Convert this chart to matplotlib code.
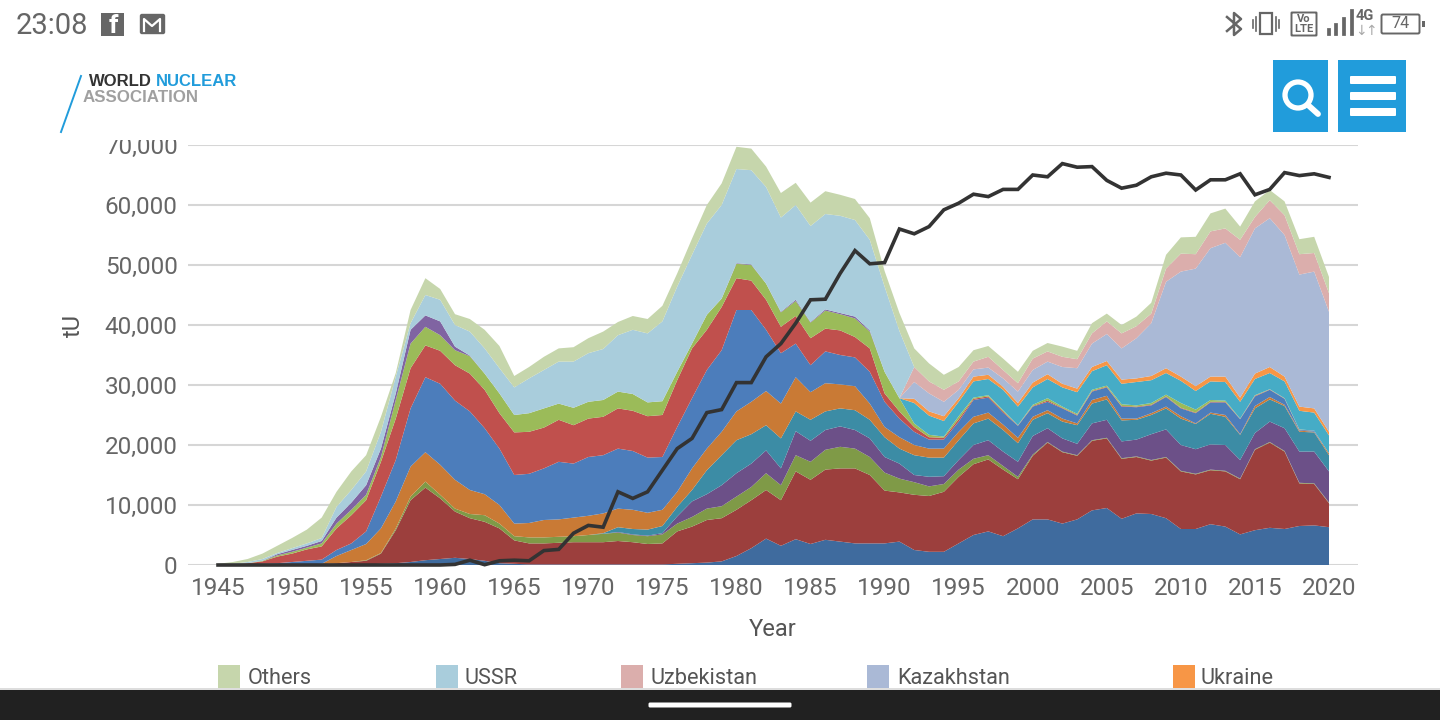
import numpy as np
import matplotlib
matplotlib.use("Agg")
import matplotlib.pyplot as plt
from matplotlib.patches import Rectangle, FancyBboxPatch, Circle

plt.rcParams['font.family'] = ['Roboto', 'DejaVu Sans']

years = list(range(1945, 2021))

# Cumulative upper edge of each stacked band, thousand tU (1945-65, 1966-91, 1992-2020)
top_australia = [0,0,0,0,0, 0,0,0,0.05,0.1, 0.1,0.2,0.3,0.5,0.8, 1.0,1.2,1.0,0.7,0.3, 0.2,
    0.1,0.1,0.1,0.1,0.1, 0.1,0.1,0.1,0.1,0.1, 0.2,0.3,0.4,0.6,1.5, 2.8,4.4,3.2,4.3,3.5, 4.2,3.9,3.6,3.6,3.6, 3.9,
    2.5,2.2,2.2,3.6,5,5.6,4.8,6.1,7.6,7.6,6.9,7.6,9.1,9.5,7.7,8.6,8.5,7.8,6,6,6.8,6.4,5.1,5.8,6.2,6,6.5,6.6,6.3]
top_canada = [0,0.1,0.1,0.1,0.1, 0.1,0.1,0.1,0.3,0.5, 0.7,1.9,5.8,10.8,12.9, 11.1,8.9,7.8,7.2,6.1, 4.1,
    3.6,3.6,3.7,3.8,3.8, 3.8,4.0,3.8,3.5,3.6, 5.6,6.4,7.5,7.8,9.2, 10.8,12.5,10.8,15.6,14.2, 15.9,16.1,16.1,15,12.4, 12.1,
    11.7,11.5,12.2,14.7,16.8,17.6,15.9,14.3,18.2,20.4,18.8,18.2,20.7,21.1,17.7,18,17.4,17.9,15.6,15.1,15.8,15.6,14.3,19.2,20.4,18.9,13.6,13.5,10.3]
top_olive = [0,0.1,0.1,0.1,0.1, 0.1,0.1,0.1,0.3,0.5, 0.8,2.0,6.1,11.4,13.9, 11.7,9.4,8.5,8.3,6.9, 4.8,
    4.6,4.6,4.7,4.8,5.0, 5.2,5.4,5.0,4.8,5.1, 6.9,8,9.4,9.8,11.4, 13,15.3,13.3,18.3,17.2, 19.2,19.7,19.4,18,15.4, 14.4,
    13.8,13.1,13.5,15.9,17.7,18.3,16.5,14.7,18.4,20.5,18.9,18.3,20.8,21.2,17.8,18.1,17.5,18,15.7,15.2,15.9,15.7,14.4,19.3,20.5,19,13.7,13.6,10.4]
top_purple = [0,0.1,0.1,0.1,0.1, 0.1,0.1,0.1,0.3,0.5, 0.8,2.0,6.1,11.4,13.9, 11.7,9.4,8.5,8.3,6.9, 4.8,
    4.6,4.6,4.7,4.8,5.0, 5.2,5.5,5.1,4.9,5.3, 8.1,10.6,11.8,13.3,15.3, 16.9,19.1,16.1,22.3,20.7, 22.5,23.1,22.5,21.1,18, 16.9,
    15,14.7,14.8,17.5,20,20.8,18.9,17.2,21.5,22.8,21.1,20.2,23.6,24.2,20.6,20.9,21.8,22.6,20,19.3,20.1,20,17.5,22,23.9,22.8,18.9,18.9,15.6]
top_teal = [0,0.1,0.1,0.1,0.1, 0.1,0.1,0.1,0.3,0.5, 0.8,2.0,6.1,11.4,13.9, 11.7,9.4,8.5,8.3,6.9, 4.8,
    4.6,4.6,4.7,4.8,5.0, 5.3,6.3,6.0,5.9,6.5, 9.7,12.5,15.8,18.3,20.8, 21.8,23.3,21.1,25.6,24.2, 25.6,26.1,25.8,24.2,21.3, 19.4,
    18.3,17.9,17.9,20.8,23.6,24.4,22.5,20.3,24.2,25.3,23.9,23.3,26.9,27.6,24.1,24.2,25,26.1,24.4,23.5,25.2,24.7,21.7,26.1,27.6,26.5,22.2,22.1,18.3]
top_brown = [0,0.1,0.1,0.1,0.1, 0.1,0.1,0.2,1.5,2.5, 3.5,6.1,10.6,16.4,18.8, 16.7,14.2,12.5,11.8,10, 6.9,
    7,7.5,7.6,7.9,8.2, 8.6,9.4,9.2,8.7,9.2, 12.2,16.1,19.4,22.2,25.6, 27.2,29,26.9,31.3,28.8, 30.3,30.1,29.8,26.9,23, 21.3,
    20,19.4,19.4,22.2,24.7,25.4,23.4,21.2,24.7,25.8,24.4,23.6,27.5,28.2,24.4,24.4,25.3,26.4,24.8,23.6,25.4,25,21.8,26.5,28,26.7,22.4,22.2,18.6]
top_blue = [0,0.1,0.1,0.2,0.3, 0.5,0.7,0.9,2.5,3.6, 5.6,11.4,17.5,26.1,31.3, 30.2,27.4,25.6,22.8,19.4, 15,
    15.2,16.1,17.2,16.9,18, 18.3,19.4,19,17.9,18, 23,27.8,32.5,35.8,42.5, 42.5,39.2,35.3,36.9,33.3, 35.6,35,34.6,32.2,27.2, 24.4,
    22.2,20.9,20.9,23.9,27.5,27.9,25.4,23.2,26.4,27.2,26.1,24.9,28.9,29.6,26.4,26.3,26.6,28,26.1,25.3,27.1,27.1,24.3,28.1,29.2,27.7,22.5,22.4,18.6]
top_red = [0,0.1,0.3,0.6,1.4, 1.9,2.6,3.1,6.1,8.3, 10.8,17.2,24.4,32.8,36.6, 35.7,33.3,31.9,29.2,25.3, 22.1,
    22.2,22.9,24.2,23.3,24.4, 24.7,26.1,25.7,24.8,25, 30.8,36.1,39.2,43,47.8, 47.4,44.2,39.7,41.5,37.8, 39.4,39.1,38,36.1,28.6, 25.6,
    23,21.3,21.2,24.3,27.7,28.1,25.6,23.25,26.5,27.4,26.2,25,29,29.7,26.5,26.4,26.7,28.1,26.2,25.4,27.2,27.2,24.35,28.2,29.25,27.75,22.55,22.4,18.6]
top_green = [0,0.1,0.3,0.7,1.6, 2.2,2.9,3.6,6.9,9.2, 11.7,18,27.5,36.9,39.7, 38.3,35.8,34.8,31.9,28.6, 25,
    25.3,26.1,26.9,26.2,27.2, 27.5,28.9,28.5,27.1,27.3, 32.2,36.9,41.7,44.4,50.2, 50,46.9,42.1,44,40.4, 42.4,41.8,41.1,38.9,32.2, 27.8,
    23.6,21.7,21.4,24.8,27.9,28.3,25.8,23.3,26.7,27.8,26.4,25.2,29.2,29.9,26.8,26.6,27,28.4,27,25.9,27.5,27.4,24.4,28.3,29.3,27.8,22.6,22.4,18.6]
top_violet = [0,0.1,0.3,0.7,1.8, 2.5,3.2,4,7.9,10.4, 13.3,19.4,28.6,39.2,41.6, 40.6,36.4,34.9,31.9,28.6, 25,
    25.3,26.1,26.9,26.2,27.2, 27.5,28.9,28.5,27.1,27.3, 32.2,36.9,41.7,44.4,50.3, 50.1,46.9,42.2,44.2,40.5, 42.6,42,41.4,39.1,32.2, 27.8,
    23.6,21.7,21.4,24.8,27.9,28.3,25.8,23.3,26.7,27.8,26.4,25.2,29.2,29.9,26.8,26.6,27,28.4,27,25.9,27.5,27.4,24.4,28.3,29.3,27.8,22.6,22.4,18.6]
# The post-Soviet bands only exist from 1992 on
top_russia = top_violet[:47] + [27,24.9,24,27.2,30.6,31,29.2,26.4,29.6,31,29.6,28.8,32.3,33.3,30.2,30.5,30.8,32,30.7,29,30.6,30.5,27.2,31,32,30.6,25.7,25.4,21.6]
top_ukraine = top_violet[:47] + [27.7,25.6,24.8,27.8,31.4,31.7,29.7,27,30.4,31.8,30.2,29.4,33,34,30.9,31.1,31.5,32.8,31.4,29.8,31.4,31.4,27.9,31.9,33,31.4,26.4,26.1,22.2]
top_kazakhstan = top_violet[:47] + [30.5,28.6,27.2,29.2,32.6,32.9,31.1,28.9,32.5,33.9,33,32.8,36.9,38.5,36.1,37.8,40.3,47.2,48.9,49.4,52.8,53.7,51.3,56.1,57.8,55,48.4,48.9,42.2]
top_uzbekistan = top_violet[:47] + [33,30.6,29.2,30.6,33.9,34.7,32.5,30.3,34.4,35.6,34.7,34.3,38.6,40.6,38.6,39.8,41.9,49.4,51.9,51.8,55.6,56.1,54.2,58,60.8,58.3,51.8,52,45.3]
top_ussr = [0,0.2,0.5,1.0,2, 2.8,3.6,4.5,9.7,12.5, 15.6,22.2,31.4,40.3,45, 44.2,40,38.9,36.1,32.8, 29.6,
    31.1,32.5,33.9,33.9,35.3, 36,38.3,39.2,38.6,40.6, 46.4,51.7,56.9,60,66, 65.8,63,57.9,60,56.5, 58.5,58.2,57.5,54.2,46.4, 39] + top_uzbekistan[47:]
top_others = [0.2,0.5,1,1.9,3.2, 4.5,5.9,7.9,12.2,15.6, 18.3,24.7,32,42.5,47.8, 46,41.8,41,39.2,36.5, 31.5,
    33,34.7,36.1,36.3,37.8, 38.9,40.5,41.5,41,43.2, 48.6,54.4,60,63.6,69.7, 69.4,66.4,62,63.7,60.4, 62.3,61.7,61,57.8,49, 42,
    36.1,33.6,31.7,33,35.8,36.5,34.4,32.2,35.7,37,36.4,35.7,40.3,41.9,40,41.4,43.7,51.7,54.6,54.7,58.6,59.4,56.4,60.6,62.5,60.6,54.3,54.7,48]

# Black line: world uranium requirements, thousand tU
requirements = [0,0,0,0,0, 0,0,0,0,0, 0,0,0,0,0, 0,0.1,0.8,0.05,0.7, 0.8,
    0.7,2.4,2.6,5.3,6.6, 6.3,12.2,11.1,12.2,15.8, 19.4,21.1,25.4,25.9,30.4, 30.4,34.7,36.9,40.3,44.2, 44.3,48.6,52.4,50.2,50.4, 56,
    55.2,56.4,59.2,60.3,61.8,61.4,62.6,62.6,65,64.7,66.9,66.3,66.4,64.1,62.8,63.3,64.7,65.3,65,62.5,64.2,64.2,65.2,61.7,62.6,65.4,64.9,65.2,64.6]

band_tops = [top_australia, top_canada, top_olive, top_purple, top_teal, top_brown,
             top_blue, top_red, top_green, top_violet, top_russia, top_ukraine,
             top_kazakhstan, top_uzbekistan, top_ussr, top_others]
band_colors = ['#3F6B9E', '#9C3F3D', '#7F9A47', '#6C5088', '#3C8CA5', '#C97A35',
               '#4C7DBB', '#C0504D', '#9BBB59', '#8064A2', '#46ACC6', '#F79646',
               '#AAB9D6', '#DBAEAC', '#A9CDDC', '#C6D6AC']
legend_names = ['Others', 'USSR', 'Uzbekistan', 'Kazakhstan', 'Ukraine']
legend_colors = ['#C6D6AC', '#A9CDDC', '#DBAEAC', '#AAB9D6', '#F79646']
y_ticks = [0, 10000, 20000, 30000, 40000, 50000, 60000, 70000]
x_ticks = list(range(1945, 2021, 5))

W, H = 1440, 720
fig = plt.figure(figsize=(W / 100, H / 100), dpi=100, facecolor='white')

# Chart axes: 1945 at x=218, 2020 at x=1329; 0 at y=565, 70,000 at y=145
left, right, top, bottom = 188, 1358, 145, 565
ax = fig.add_axes([left / W, 1 - bottom / H, (right - left) / W, (bottom - top) / H])
px_per_year = (1329 - 218) / 75
ax.set_xlim(1945 - (218 - left) / px_per_year, 2020 + (right - 1329) / px_per_year)
ax.set_ylim(0, 70000)

tops = np.array(band_tops) * 1000
bands = np.diff(np.vstack([np.zeros(len(years)), tops]), axis=0).clip(min=0)
ax.stackplot(years, bands, colors=band_colors, linewidth=0, zorder=2)
ax.plot(years, np.array(requirements) * 1000, color='#333333', lw=2.6, zorder=3,
        solid_joinstyle='miter', clip_on=False)

ax.set_yticks(y_ticks)
ax.set_yticklabels([f'{v:,}' for v in y_ticks])
ax.set_xticks(x_ticks)
ax.tick_params(axis='both', length=0, labelsize=17.5, labelcolor='#666666')
ax.tick_params(axis='x', pad=8.5)
ax.tick_params(axis='y', pad=7.5)
ax.grid(axis='y', color='#D6D6D6', lw=1.5, zorder=1)
ax.set_axisbelow(True)
for s in ax.spines.values():
    s.set_visible(False)
ax.set_ylabel('tU', fontsize=17, color='#555555', labelpad=0)
ax.yaxis.set_label_coords((85 - left) / (right - left), 0.57)
ax.set_xlabel('Year', fontsize=17, color='#555555')
ax.xaxis.set_label_coords((773 - left) / (right - left), -(629 - bottom) / (bottom - top))
ax.xaxis.label.set_verticalalignment('center')

# Page furniture, drawn in pixel coordinates over the chart
ui = fig.add_axes([0, 0, 1, 1], zorder=10)
ui.set_xlim(0, W)
ui.set_ylim(H, 0)
ui.axis('off')
ui.patch.set_alpha(0)
grey = '#666666'
blue = '#219CDB'

ui.add_patch(Rectangle((0, 0), W, 140, color='white', lw=0))

# Legend strip, cut off by the navigation bar
for x_sq, x_txt, name, col in zip([218, 436, 621, 867, 1173], [248, 465, 651, 897, 1201],
                                  legend_names, legend_colors):
    ui.add_patch(Rectangle((x_sq, 665), 22, 23, color=col, lw=0))
    ui.text(x_txt, 678.5, name, fontsize=15.7, color='#555555', va='center', ha='left')

# Navigation bar
ui.add_patch(Rectangle((0, 688), W, 2, color='#DDDDDD', lw=0))
ui.add_patch(Rectangle((0, 690), W, 30, color='#212121', lw=0))
ui.add_patch(FancyBboxPatch((650, 704), 140, 2, boxstyle='round,pad=1.5', color='white', lw=0))

# Status bar
ui.text(16, 26, '23:08', fontsize=21, color=grey, va='center', ha='left')
ui.add_patch(Rectangle((101, 13), 23, 23, color=grey, lw=0))
ui.text(113, 26, 'f', fontsize=19, fontweight='bold', color='white', va='center', ha='center')
ui.add_patch(FancyBboxPatch((142, 16), 21, 16, boxstyle='round,pad=1.5', fc=grey, ec=grey, lw=1))
ui.plot([144, 144, 152, 160, 160], [31, 19, 26, 19, 31], color='white', lw=1.6)
ui.plot([1227, 1241, 1234, 1234, 1241, 1227], [17, 29, 35, 13, 19, 31], color=grey, lw=1.8)
ui.add_patch(Rectangle((1260, 13), 12, 21, fc='none', ec=grey, lw=1.6))
for xv, h in [(1253, 4), (1256, 7), (1276, 7), (1279, 4)]:
    ui.plot([xv, xv], [24 - h, 24 + h], color=grey, lw=1.2)
ui.add_patch(FancyBboxPatch((1292, 13), 24, 22, boxstyle='round,pad=0.5', fc='none', ec=grey, lw=1.4))
ui.text(1304, 19, 'Vo', fontsize=8, fontweight='bold', color=grey, ha='center', va='center')
ui.text(1304, 29, 'LTE', fontsize=8, fontweight='bold', color=grey, ha='center', va='center')
for xb, ytop in [(1329, 30), (1336, 25), (1344, 19), (1352, 11)]:
    ui.plot([xb, xb], [ytop, 34], color=grey, lw=2.7)
ui.text(1365, 16, '4G', fontsize=10.5, fontweight='bold', color=grey, ha='center', va='center')
ui.text(1361, 31, '↓', fontsize=10, color='#AAAAAA', ha='center', va='center', family='DejaVu Sans')
ui.text(1371, 31, '↑', fontsize=10, color='#AAAAAA', ha='center', va='center', family='DejaVu Sans')
ui.add_patch(FancyBboxPatch((1383, 16), 35, 16, boxstyle='round,pad=1.5', fc='none', ec=grey, lw=1.4))
ui.add_patch(Rectangle((1422, 21), 2.5, 6, color=grey, lw=0))
ui.text(1400, 24, '74', fontsize=11.5, color=grey, ha='center', va='center')

# Logo
ui.plot([81, 61], [76, 132], color=blue, lw=1.4)
ui.text(89, 82, 'WORLD', fontsize=12, fontweight='bold', color='#333333', va='center',
        ha='left', family='Liberation Sans')
ui.text(156, 82, 'NUCLEAR', fontsize=12, fontweight='bold', color=blue, va='center',
        ha='left', family='Liberation Sans')
ui.text(83, 97.5, 'ASSOCIATION', fontsize=12.2, fontweight='bold', color='#A0A0A0', va='center',
        ha='left', family='Liberation Sans')

# Search and menu buttons
ui.add_patch(Rectangle((1273, 60), 55, 72, color=blue, lw=0))
ui.add_patch(Rectangle((1338, 60), 68, 72, color=blue, lw=0))
ui.add_patch(Circle((1298, 95), 13, fc='none', ec='white', lw=3.8))
ui.plot([1308, 1318], [105, 114], color='white', lw=4.2, solid_capstyle='round')
for yb in [76, 92, 108]:
    ui.add_patch(FancyBboxPatch((1351, yb + 1), 44, 6, boxstyle='round,pad=1', color='white', lw=0))

fig.savefig('out.png', dpi=100, facecolor='white')
